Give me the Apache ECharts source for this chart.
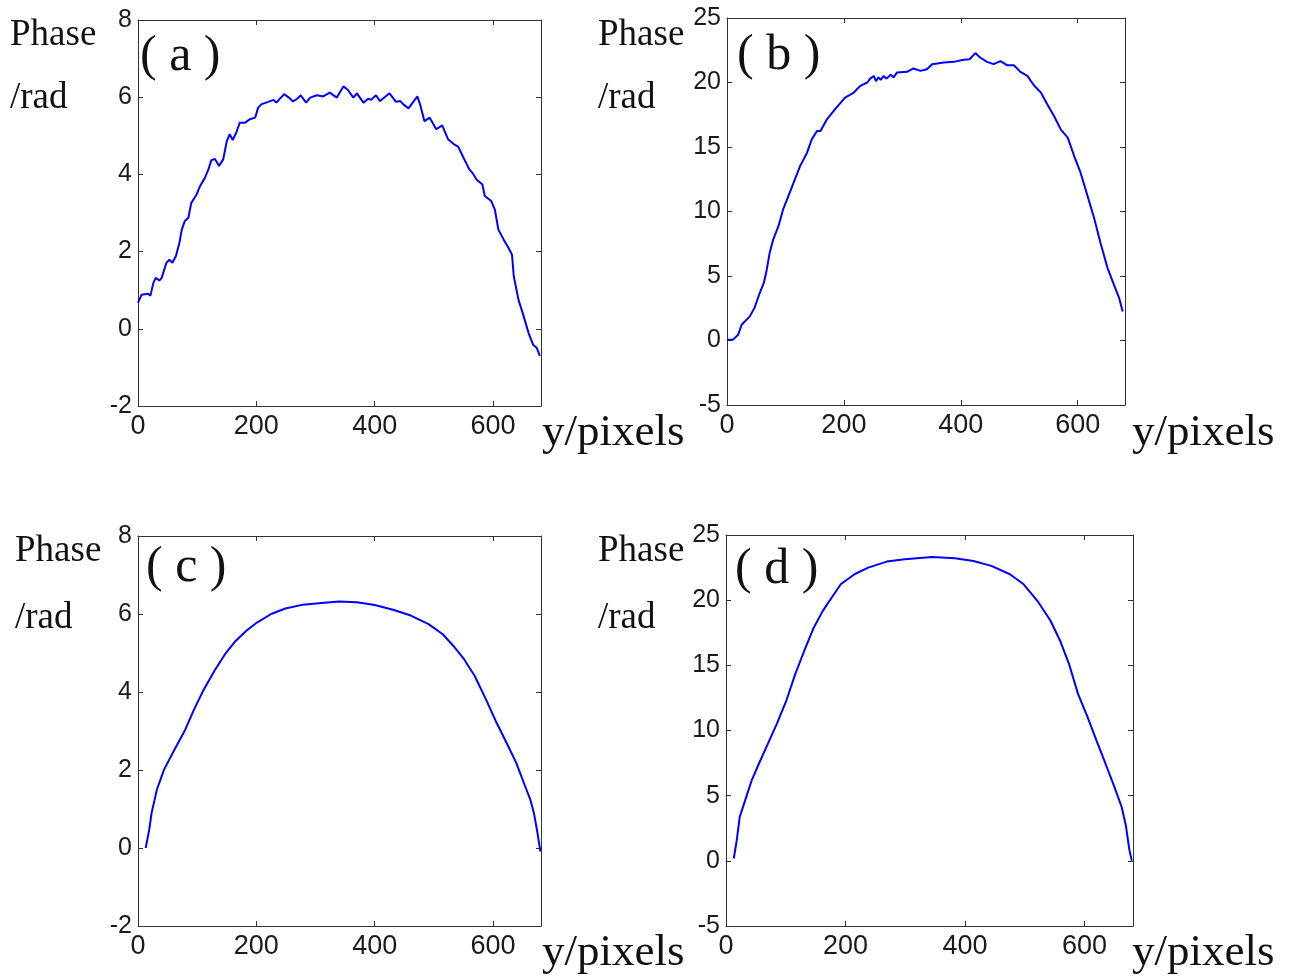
<!DOCTYPE html>
<html>
<head>
<meta charset="utf-8">
<script src="https://cdn.jsdelivr.net/npm/echarts@6/dist/echarts.min.js"></script>
<style>
html,body{margin:0;padding:0;background:#fff;}
#chart{width:1292px;height:976px;}
</style>
</head>
<body>
<div id="chart"></div>
<script>
// ---- data ----
const xA = [0,6,17,21,26,30,36,40,48,53,58,64,70,74,79,85,90,99,105,113,119,124,130,137,144,150,155,160,166,172,181,189,198,203,209,220,229,234,239,247,255,262,269,275,284,291,302,313,324,336,347,354,364,370,381,389,394,402,409,425,436,443,448,457,472,477,484,493,504,514,524,534,541,550,560,567,572,582,586,597,603,609,618,626,632,635,643,651,660,668,674,679];
const phaseA = [0.67,0.88,0.91,0.86,1.19,1.32,1.25,1.32,1.71,1.79,1.71,1.88,2.23,2.57,2.79,2.87,3.26,3.48,3.70,3.91,4.13,4.37,4.40,4.22,4.39,4.86,5.04,4.89,5.08,5.34,5.34,5.43,5.47,5.73,5.82,5.88,5.93,5.86,5.95,6.08,5.99,5.89,5.96,6.05,5.86,5.99,6.05,6.02,6.12,5.99,6.28,6.20,5.99,6.10,5.86,5.96,5.93,6.05,5.90,6.10,5.88,5.90,5.82,5.71,6.02,5.80,5.38,5.47,5.17,5.27,4.91,4.78,4.72,4.43,4.13,4.00,3.87,3.74,3.44,3.31,3.09,2.57,2.31,2.10,1.92,1.36,0.75,0.36,-0.11,-0.42,-0.50,-0.70];

const xB = [0,10,19,25,39,47,56,63,68,73,79,88,96,105,114,125,137,145,154,160,171,185,202,217,228,240,245,251,255,259,263,268,273,280,285,291,308,319,331,342,351,371,388,405,415,425,433,445,456,468,479,491,502,514,525,537,548,560,571,583,594,605,617,628,639,651,662,671,677];
const phaseB = [0.05,0.05,0.44,1.22,1.87,2.52,3.68,4.46,5.49,6.79,7.82,8.86,10.16,11.19,12.23,13.52,14.56,15.59,16.24,16.24,17.15,17.93,18.83,19.22,19.74,20.0,20.3,20.51,20.1,20.4,20.2,20.5,20.3,20.6,20.4,20.78,20.83,21.09,20.90,21.03,21.42,21.55,21.60,21.76,21.80,22.28,21.94,21.60,21.42,21.66,21.34,21.34,20.82,20.51,19.79,19.22,18.31,17.36,16.37,15.73,14.30,13.01,11.19,9.51,7.57,5.63,4.33,3.29,2.25];

const xC = [13,19,23,32,44,62,80,95,110,129,147,165,183,201,225,249,279,310,340,370,400,431,461,491,515,533,551,569,588,606,624,639,654,663,669,675,680];
const phaseC = [0.0,0.47,0.90,1.50,2.01,2.53,3.04,3.56,4.03,4.54,4.97,5.31,5.57,5.78,6.00,6.14,6.24,6.28,6.32,6.30,6.23,6.11,5.96,5.74,5.48,5.18,4.84,4.41,3.81,3.21,2.66,2.19,1.59,1.24,0.90,0.39,-0.09];

const xD = [13,18,23,32,43,55,70,85,101,116,131,147,162,177,192,215,238,269,299,345,383,414,444,475,498,521,543,559,574,589,605,620,635,650,662,669,675,679];
const phaseD = [0.18,1.58,3.37,4.64,6.17,7.45,8.98,10.51,12.30,14.34,16.12,17.91,19.18,20.20,21.22,21.99,22.50,22.96,23.14,23.32,23.21,23.01,22.63,21.99,21.22,19.95,18.42,16.89,15.10,12.81,11.02,9.23,7.45,5.66,4.13,2.73,0.82,0.0];

const panelLabels = ['a','b','c','d'];
const yLabel1 = 'Phase';
const yLabel2 = '/rad';
const xLabel = 'y/pixels';
const yRanges = [[-2,8,2],[-5,25,5],[-2,8,2],[-5,25,5]];
const xRange = [0,681,200];

// ---- layout ----
const grids = [
  {left:138, top:20, width:403, height:386},
  {left:727, top:18, width:398, height:387},
  {left:138, top:536, width:403, height:390},
  {left:726, top:535, width:407, height:391}
];
const seriesX = [xA,xB,xC,xD];
const seriesY = [phaseA,phaseB,phaseC,phaseD];

const axisColor = '#333';
const sans = 'Liberation Sans, Arial, sans-serif';

const xAxes = [], yAxes = [], series = [];
grids.forEach((g,i)=>{
  const yr = yRanges[i];
  xAxes.push({gridIndex:i, type:'value', position:'bottom', min:xRange[0], max:xRange[1], interval:xRange[2],
    axisLine:{show:true, onZero:false, lineStyle:{color:axisColor,width:1}},
    axisTick:{show:true, inside:true, length:5, lineStyle:{color:axisColor}},
    axisLabel:{show:true, margin:7, showMaxLabel:false, fontFamily:sans, fontSize:27, color:'#1a1a1a'},
    splitLine:{show:false}});
  xAxes.push({gridIndex:i, type:'value', position:'top', min:xRange[0], max:xRange[1], interval:xRange[2],
    axisLine:{show:true, onZero:false, lineStyle:{color:axisColor,width:1}},
    axisTick:{show:true, inside:true, length:5, lineStyle:{color:axisColor}},
    axisLabel:{show:false}, splitLine:{show:false}});
  yAxes.push({gridIndex:i, type:'value', position:'left', min:yr[0], max:yr[1], interval:yr[2],
    axisLine:{show:true, onZero:false, lineStyle:{color:axisColor,width:1}},
    axisTick:{show:true, inside:true, length:5, lineStyle:{color:axisColor}},
    axisLabel:{show:true, margin:6, fontFamily:sans, fontSize:25, color:'#1a1a1a'},
    splitLine:{show:false}});
  yAxes.push({gridIndex:i, type:'value', position:'right', min:yr[0], max:yr[1], interval:yr[2],
    axisLine:{show:true, onZero:false, lineStyle:{color:axisColor,width:1}},
    axisTick:{show:true, inside:true, length:5, lineStyle:{color:axisColor}},
    axisLabel:{show:false}, splitLine:{show:false}});
  series.push({type:'line', xAxisIndex:2*i, yAxisIndex:2*i,
    data: seriesX[i].map((x,k)=>[x, seriesY[i][k]]),
    showSymbol:false, symbol:'none', smooth:false, animation:false,
    lineStyle:{color:'#0000ff', width:2}});
});

// ---- text annotations ----
const serif = 'Liberation Serif, Times New Roman, serif';
const textPos = [
  {phase:[10,35], rad:[10,98], panel:[140,57], xl:[542,433]},
  {phase:[598,35], rad:[598,98], panel:[737,56], xl:[1132,433]},
  {phase:[15,551], rad:[15,618], panel:[146,568], xl:[542,953]},
  {phase:[598,551], rad:[598,618], panel:[735,570], xl:[1132,953]}
];
const graphic = [];
textPos.forEach((p,i)=>{
  graphic.push({type:'text', x:p.phase[0], y:p.phase[1], style:{text:yLabel1, font:'37px '+serif, fill:'#111', textVerticalAlign:'middle', verticalAlign:'middle'}});
  graphic.push({type:'text', x:p.rad[0], y:p.rad[1], style:{text:yLabel2, font:'37px '+serif, fill:'#111', textVerticalAlign:'middle', verticalAlign:'middle'}});
  graphic.push({type:'text', x:p.panel[0], y:p.panel[1], style:{text:'( '+panelLabels[i]+' )', font:'50px '+serif, fill:'#111', textVerticalAlign:'middle', verticalAlign:'middle'}});
  graphic.push({type:'text', x:p.xl[0], y:p.xl[1], style:{text:xLabel, font:'45px '+serif, fill:'#111', textVerticalAlign:'middle', verticalAlign:'middle'}});
});

const chart = echarts.init(document.getElementById('chart'), null, {renderer:'canvas'});
chart.setOption({
  animation:false,
  backgroundColor:'#fff',
  grid: grids,
  xAxis: xAxes,
  yAxis: yAxes,
  series: series,
  graphic: graphic
});
</script>
</body>
</html>
